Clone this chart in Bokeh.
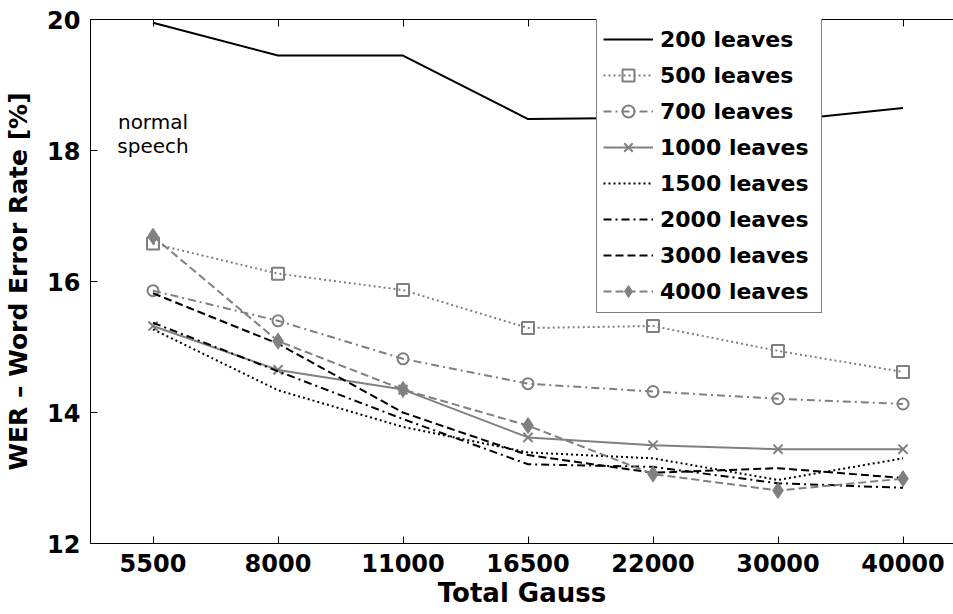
from bokeh.plotting import figure
from bokeh.models import Range1d, FixedTicker, LinearAxis, Label
from bokeh.embed import file_html
from bokeh.resources import INLINE

# ---- data ----
gauss_labels = ["5500", "8000", "11000", "16500", "22000", "30000", "40000"]
xpos = list(range(1, len(gauss_labels) + 1))

wer_200 = [19.95, 19.45, 19.45, 18.48, 18.50, 18.45, 18.65]
wer_500 = [16.58, 16.12, 15.87, 15.29, 15.32, 14.94, 14.62]
wer_700 = [15.86, 15.40, 14.82, 14.44, 14.32, 14.21, 14.13]
wer_1000 = [15.32, 14.65, 14.35, 13.62, 13.50, 13.44, 13.44]
wer_1500 = [15.27, 14.34, 13.78, 13.39, 13.30, 12.97, 13.30]
wer_2000 = [15.37, 14.63, 13.90, 13.21, 13.17, 12.92, 12.85]
wer_3000 = [15.82, 15.05, 14.00, 13.35, 13.08, 13.15, 13.00]
wer_4000 = [16.69, 15.09, 14.35, 13.80, 13.06, 12.81, 12.99]

y_ticks = [12, 14, 16, 18, 20]
note_text = "normal\nspeech"
note_x, note_y = 1, 18.25

FONT = "DejaVu Sans"
GRAY = "#808080"

p = figure(width=953, height=614, output_backend="svg", toolbar_location=None,
           x_range=Range1d(0.5, 7.404), y_range=Range1d(12, 20),
           min_border_left=90, min_border_right=0, min_border_top=19,
           min_border_bottom=71)
p.grid.visible = False
p.outline_line_color = None
p.background_fill_color = "white"
p.border_fill_color = "white"

# axes
xa = p.xaxis[0]
xa.ticker = FixedTicker(ticks=xpos)
xa.major_label_overrides = {x: lab for x, lab in zip(xpos, gauss_labels)}
xa.axis_label = "Total Gauss"
ya = p.yaxis[0]
ya.ticker = FixedTicker(ticks=y_ticks)
ya.axis_label = "WER \u2013 Word Error Rate [%]"
for ax in (xa, ya):
    ax.major_tick_in = 7
    ax.major_tick_out = 0
    ax.minor_tick_line_color = None
    ax.axis_line_color = "black"
    ax.major_tick_line_color = "black"
    ax.major_label_text_font = FONT
    ax.major_label_text_font_style = "bold"
    ax.major_label_text_font_size = "24px"
    ax.major_label_text_color = "black"
    ax.axis_label_text_font = FONT
    ax.axis_label_text_font_style = "bold"
    ax.axis_label_text_color = "black"
xa.axis_label_text_font_size = "26px"
ya.axis_label_text_font_size = "25px"
xa.major_label_standoff = 10
xa.axis_label_standoff = 3
ya.major_label_standoff = 10
ya.axis_label_standoff = 11

top = LinearAxis(ticker=FixedTicker(ticks=xpos), major_label_text_color=None,
                 major_label_text_font_size="10px",
                 major_tick_in=7, major_tick_out=0, major_label_standoff=0,
                 minor_tick_line_color=None, axis_line_color="black")
p.add_layout(top, "above")

# series
lw = 2
p.line(xpos, wer_200, line_color="black", line_width=lw, legend_label="200 leaves")

p.line(xpos, wer_500, line_color=GRAY, line_width=lw, line_dash="2 3", legend_label="500 leaves")
p.scatter(xpos, wer_500, marker="square", size=12, line_color=GRAY, line_width=2,
          fill_color=None, legend_label="500 leaves")

p.line(xpos, wer_700, line_color=GRAY, line_width=lw, line_dash="8 4 2 4", legend_label="700 leaves")
p.scatter(xpos, wer_700, marker="circle", size=11, line_color=GRAY, line_width=2,
          fill_color=None, legend_label="700 leaves")

p.line(xpos, wer_1000, line_color=GRAY, line_width=lw, legend_label="1000 leaves")
p.scatter(xpos, wer_1000, marker="x", size=13, line_color=GRAY, line_width=2,
          legend_label="1000 leaves")

p.line(xpos, wer_1500, line_color="black", line_width=lw, line_dash="2 3", legend_label="1500 leaves")
p.line(xpos, wer_2000, line_color="black", line_width=lw, line_dash="8 4 2 4", legend_label="2000 leaves")
p.line(xpos, wer_3000, line_color="black", line_width=lw, line_dash="8 4", legend_label="3000 leaves")

p.line(xpos, wer_4000, line_color=GRAY, line_width=lw, line_dash="8 4", legend_label="4000 leaves")
p.scatter(xpos, wer_4000, marker="diamond", size=16, line_color=GRAY, line_width=1,
          fill_color=GRAY, legend_label="4000 leaves")

note = Label(x=note_x, y=note_y, text=note_text, text_align="center", text_baseline="middle",
             text_font=FONT, text_font_size="20px", text_color="black", text_line_height=1.0)
p.add_layout(note)

lg = p.legend[0]
lg.location = (506, 230)
lg.border_line_color = "black"
lg.border_line_width = 1
lg.background_fill_alpha = 1
lg.padding = 6
lg.spacing = 6
lg.margin = 0
lg.glyph_height = 30
lg.glyph_width = 50
lg.label_height = 30
lg.label_width = 155
lg.label_standoff = 7
lg.label_text_font = FONT
lg.label_text_font_style = "bold"
lg.label_text_font_size = "22px"
lg.label_text_color = "black"
lg.label_text_baseline = "middle"

open("out.html", "w").write(file_html(p, INLINE))
